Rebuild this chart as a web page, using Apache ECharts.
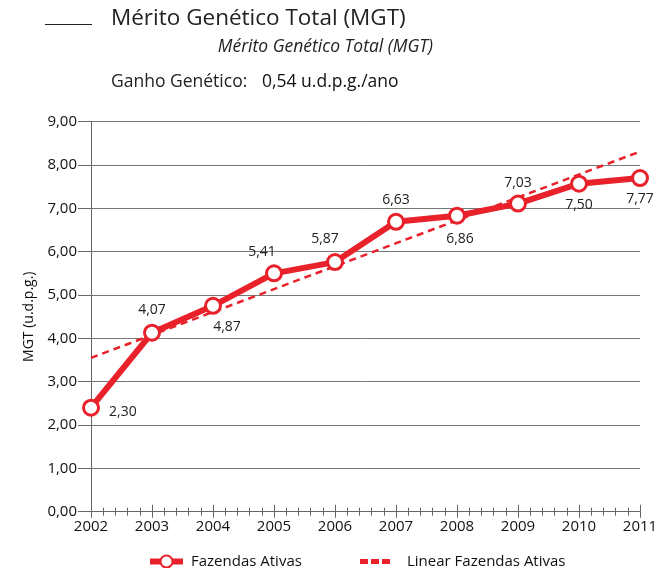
<!DOCTYPE html>
<html>
<head>
<meta charset="utf-8">
<script src="https://cdn.jsdelivr.net/npm/echarts@6/dist/echarts.min.js"></script>
<style>
  html, body { margin: 0; padding: 0; background: #fff; }
  #chart { width: 665px; height: 568px; }
</style>
</head>
<body>
<div id="chart"></div>
<script>
// dados
const anos = [2002, 2003, 2004, 2005, 2006, 2007, 2008, 2009, 2010, 2011];
const mgt = [2.40, 4.13, 4.75, 5.50, 5.76, 6.69, 6.83, 7.11, 7.57, 7.70];
const mgtRotulos = ['2,30', '4,07', '4,87', '5,41', '5,87', '6,63', '6,86', '7,03', '7,50', '7,77'];
const tendenciaAnos = [2002, 2011];
const tendencia = [3.55, 8.31];
const yTicks = [0, 1, 2, 3, 4, 5, 6, 7, 8, 9];

const red = '#e8212b';
const fonte = '"Open Sans", "Noto Sans", sans-serif';

// posição dos rótulos de cada ponto
const rotuloPos = [
  { position: 'right', distance: 9, offset: [0, 4] },
  { position: 'top', distance: 7, offset: [0, 0] },
  { position: 'bottom', distance: 5, offset: [14, 0] },
  { position: 'top', distance: 5, offset: [-12, 0] },
  { position: 'top', distance: 7, offset: [-10, 0] },
  { position: 'top', distance: 6, offset: [0, 0] },
  { position: 'bottom', distance: 7, offset: [3, 0] },
  { position: 'top', distance: 5, offset: [0, 0] },
  { position: 'bottom', distance: 5, offset: [0, 0] },
  { position: 'bottom', distance: 5, offset: [0, 0] }
];

const chart = echarts.init(document.getElementById('chart'));

const xBase = {
  type: 'value',
  min: anos[0],
  max: anos[anos.length - 1],
  interval: 1,
  splitLine: { show: false },
  axisLine: { lineStyle: { color: '#666', width: 1 } }
};

const option = {
  animation: false,
  textStyle: { fontFamily: fonte },
  graphic: [
    { type: 'line', shape: { x1: 45, y1: 24.5, x2: 92, y2: 24.5 }, style: { stroke: '#222', lineWidth: 1 } },
    { type: 'text', left: 111, top: 7, style: { text: 'Mérito Genético Total (MGT)', font: '22.5px ' + fonte, fill: '#222' } },
    { type: 'text', right: 232, top: 38, style: { text: 'Mérito Genético Total (MGT)', font: 'italic 17.5px ' + fonte, fill: '#222' } },
    { type: 'text', left: 111, top: 73, style: { text: 'Ganho Genético:', font: '17.5px ' + fonte, fill: '#222' } },
    { type: 'text', left: 262, top: 73, style: { text: '0,54 u.d.p.g./ano', font: '500 17.5px ' + fonte, fill: '#111' } }
  ],
  grid: { left: 91, right: 25, top: 121.7, bottom: 56.3 },
  xAxis: [
    Object.assign({}, xBase, {
      axisTick: { show: true, length: 6, lineStyle: { color: '#666' } },
      minorTick: { show: true, splitNumber: 5, length: 4, lineStyle: { color: '#666' } },
      axisLabel: { color: '#111', fontSize: 15, margin: 8, formatter: v => String(v) }
    }),
    Object.assign({}, xBase, {
      position: 'bottom',
      axisTick: { show: true, inside: true, length: 7, lineStyle: { color: '#666' } },
      minorTick: { show: true, splitNumber: 5, length: 4, lineStyle: { color: '#666' } },
      axisLabel: { show: false }
    })
  ],
  yAxis: {
    type: 'value',
    min: yTicks[0],
    max: yTicks[yTicks.length - 1],
    interval: 1,
    name: 'MGT (u.d.p.g.)',
    nameLocation: 'middle',
    nameGap: 48,
    nameTextStyle: { color: '#111', fontSize: 14 },
    axisLine: { show: true, lineStyle: { color: '#666' } },
    axisTick: { show: true, length: 13, lineStyle: { color: '#666' } },
    axisLabel: { color: '#111', fontSize: 15, margin: 14, formatter: v => v.toFixed(2).replace('.', ',') },
    splitLine: { lineStyle: { color: '#777', width: 1 } }
  },
  legend: [
    {
      left: 147,
      top: 554,
      padding: 0,
      itemWidth: 33,
      itemHeight: 15,
      textStyle: { color: '#111', fontSize: 15, padding: [0, 0, 0, 3] },
      lineStyle: { width: 6 },
      data: ['Fazendas Ativas']
    },
    {
      left: 360,
      top: 554,
      padding: 0,
      itemWidth: 30,
      itemHeight: 6,
      textStyle: { color: '#111', fontSize: 15, padding: [0, 0, 0, 12] },
      data: [{ name: 'Linear Fazendas Ativas', icon: 'path://M0,0h8v5h-8z M11,0h8v5h-8z M22,0h8v5h-8z' }]
    }
  ],
  series: [
    {
      name: 'Linear Fazendas Ativas',
      type: 'line',
      data: tendenciaAnos.map((a, i) => [a, tendencia[i]]),
      showSymbol: false,
      symbol: 'none',
      lineStyle: { color: red, width: 2.5, type: [7, 5] },
      itemStyle: { color: red },
      z: 2
    },
    {
      name: 'Fazendas Ativas',
      type: 'line',
      data: anos.map((a, i) => ({
        value: [a, mgt[i]],
        label: Object.assign({ formatter: mgtRotulos[i] }, rotuloPos[i])
      })),
      symbol: 'circle',
      symbolSize: 15,
      lineStyle: { color: red, width: 6 },
      itemStyle: { color: '#fff', borderColor: red, borderWidth: 3 },
      label: { show: true, color: '#222', fontSize: 14 },
      z: 3
    }
  ]
};

chart.setOption(option);
</script>
</body>
</html>
